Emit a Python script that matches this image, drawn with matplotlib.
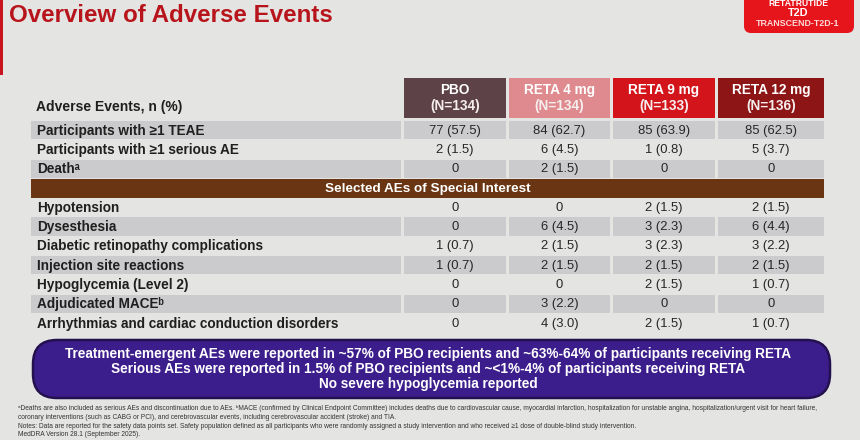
import matplotlib
matplotlib.use("Agg")
import matplotlib.pyplot as plt
from matplotlib.patches import Rectangle, FancyBboxPatch

plt.rcParams['font.family'] = ['Liberation Sans', 'DejaVu Sans']

# ---------------- data ----------------
title = "Overview of Adverse Events"
badge_lines = ["RETATRUTIDE", "T2D", "TRANSCEND-T2D-1"]
row_header = "Adverse Events, n (%)"
groups = ["PBO", "RETA 4 mg", "RETA 9 mg", "RETA 12 mg"]
group_n = ["(N=134)", "(N=134)", "(N=133)", "(N=136)"]
group_colors = ["#5d4347", "#de8a8e", "#d3151b", "#8e1515"]

top_labels = ["Participants with \u22651 TEAE",
              "Participants with \u22651 serious AE",
              "Death\u1d43"]
top_pbo = ["77 (57.5)", "2 (1.5)", "0"]
top_reta4 = ["84 (62.7)", "6 (4.5)", "2 (1.5)"]
top_reta9 = ["85 (63.9)", "1 (0.8)", "0"]
top_reta12 = ["85 (62.5)", "5 (3.7)", "0"]

section_title = "Selected AEs of Special Interest"
sp_labels = ["Hypotension", "Dysesthesia", "Diabetic retinopathy complications",
             "Injection site reactions", "Hypoglycemia (Level 2)",
             "Adjudicated MACE\u1d47", "Arrhythmias and cardiac conduction disorders"]
sp_pbo = ["0", "0", "1 (0.7)", "1 (0.7)", "0", "0", "0"]
sp_reta4 = ["0", "6 (4.5)", "2 (1.5)", "2 (1.5)", "0", "3 (2.2)", "4 (3.0)"]
sp_reta9 = ["2 (1.5)", "3 (2.3)", "3 (2.3)", "2 (1.5)", "2 (1.5)", "0", "2 (1.5)"]
sp_reta12 = ["2 (1.5)", "6 (4.4)", "3 (2.2)", "2 (1.5)", "1 (0.7)", "0", "1 (0.7)"]

summary_lines = [
    "Treatment-emergent AEs were reported in ~57% of PBO recipients and ~63%-64% of participants receiving RETA",
    "Serious AEs were reported in 1.5% of PBO recipients and ~<1%-4% of participants receiving RETA",
    "No severe hypoglycemia reported",
]
footnotes = [
    "\u1d43Deaths are also included as serious AEs and discontinuation due to AEs. \u1d47MACE (confirmed by Clinical Endpoint Committee) includes deaths due to cardiovascular cause, myocardial infarction, hospitalization for unstable angina, hospitalization/urgent visit for heart failure,",
    "coronary interventions (such as CABG or PCI), and cerebrovascular events, including cerebrovascular accident (stroke) and TIA.",
    "Notes: Data are reported for the safety data points set. Safety population defined as all participants who were randomly assigned a study intervention and who received \u22651 dose of double-blind study intervention.",
    "MedDRA Version 28.1 (September 2025).",
]

# ---------------- layout ----------------
BG = "#e4e5e2"
SHADE = "#cbcbcd"
TXT = "#1f1f1f"
fig = plt.figure(figsize=(8.6, 4.4), dpi=100, facecolor=BG)
ax = fig.add_axes([0, 0, 1, 1])
ax.set_xlim(0, 860)
ax.set_ylim(440, 0)
ax.axis("off")
ax.set_facecolor(BG)

# left accent bar & title
ax.add_patch(Rectangle((0, 0), 3, 75, color="#c8141c", lw=0))
ax.text(9, 15, title, color="#b8141c", fontsize=17.4, fontweight="bold",
        ha="left", va="center")

# badge
ax.add_patch(FancyBboxPatch((744, -20), 110, 53,
                            boxstyle="round,pad=0,rounding_size=7",
                            fc="#e5151b", ec="none"))
ax.text(798, 3.6, badge_lines[0], color="white", fontsize=6.2, fontweight="bold",
        ha="center", va="center")
ax.text(798, 12.5, badge_lines[1], color="white", fontsize=7.8, fontweight="bold",
        ha="center", va="center")
ax.text(798, 23, badge_lines[2], color="#fbdada", fontsize=6.4, fontweight="bold",
        ha="center", va="center")

# column geometry
label_x0, label_x1 = 31, 401
col_x = [(404, 506), (509, 610), (613, 715), (718, 824)]
centers = [(a + b) / 2 for a, b in col_x]

# header
ax.text(36, 107, row_header, color=TXT, fontsize=10, fontweight="bold",
        ha="left", va="center")
for (a, b), g, n, c in zip(col_x, groups, group_n, group_colors):
    ax.add_patch(Rectangle((a, 78), b - a, 40, color=c, lw=0))
    ax.text((a + b) / 2, 90, g, color="white", fontsize=9.8, fontweight="bold",
            ha="center", va="center")
    ax.text((a + b) / 2, 106, n, color="#f6eeee", fontsize=9.8, fontweight="bold",
            ha="center", va="center")

y0 = 121
pitch = 19.3


def draw_row(y, label, vals, shaded):
    if shaded:
        ax.add_patch(Rectangle((label_x0, y), label_x1 - label_x0, pitch - 1.2,
                               color=SHADE, lw=0))
        for a, b in col_x:
            ax.add_patch(Rectangle((a, y), b - a, pitch - 1.2, color=SHADE, lw=0))
    cy = y + pitch / 2
    ax.text(37, cy, label, color=TXT, fontsize=9.8, fontweight="bold",
            ha="left", va="center")
    for cx, v in zip(centers, vals):
        ax.text(cx, cy, v, color="#262626", fontsize=9.4, ha="center", va="center")


r = 0
for i, lab in enumerate(top_labels):
    draw_row(y0 + r * pitch, lab,
             [top_pbo[i], top_reta4[i], top_reta9[i], top_reta12[i]], i % 2 == 0)
    r += 1

# section band
yb = y0 + r * pitch
ax.add_patch(Rectangle((label_x0, yb), col_x[-1][1] - label_x0, pitch,
                       color="#693512", lw=0))
ax.text((label_x0 + col_x[-1][1]) / 2, yb + pitch / 2, section_title,
        color="white", fontsize=9.7, fontweight="bold", ha="center", va="center")
r += 1

for i, lab in enumerate(sp_labels):
    draw_row(y0 + r * pitch, lab,
             [sp_pbo[i], sp_reta4[i], sp_reta9[i], sp_reta12[i]], i % 2 == 1)
    r += 1

# summary box
ax.add_patch(FancyBboxPatch((33, 340), 797, 58,
                            boxstyle="round,pad=0,rounding_size=24",
                            fc="#3c1d8c", ec="#23104e", lw=1.8))
for k, line in enumerate(summary_lines):
    ax.text(428, 354 + k * 15, line, color="white", fontsize=9.8,
            fontweight="bold", ha="center", va="center")

# footnotes
for k, line in enumerate(footnotes):
    ax.text(18, 409 + k * 8.6, line, color="#333333", fontsize=4.8,
            ha="left", va="center")

fig.savefig("out.png", dpi=100, facecolor=BG)
